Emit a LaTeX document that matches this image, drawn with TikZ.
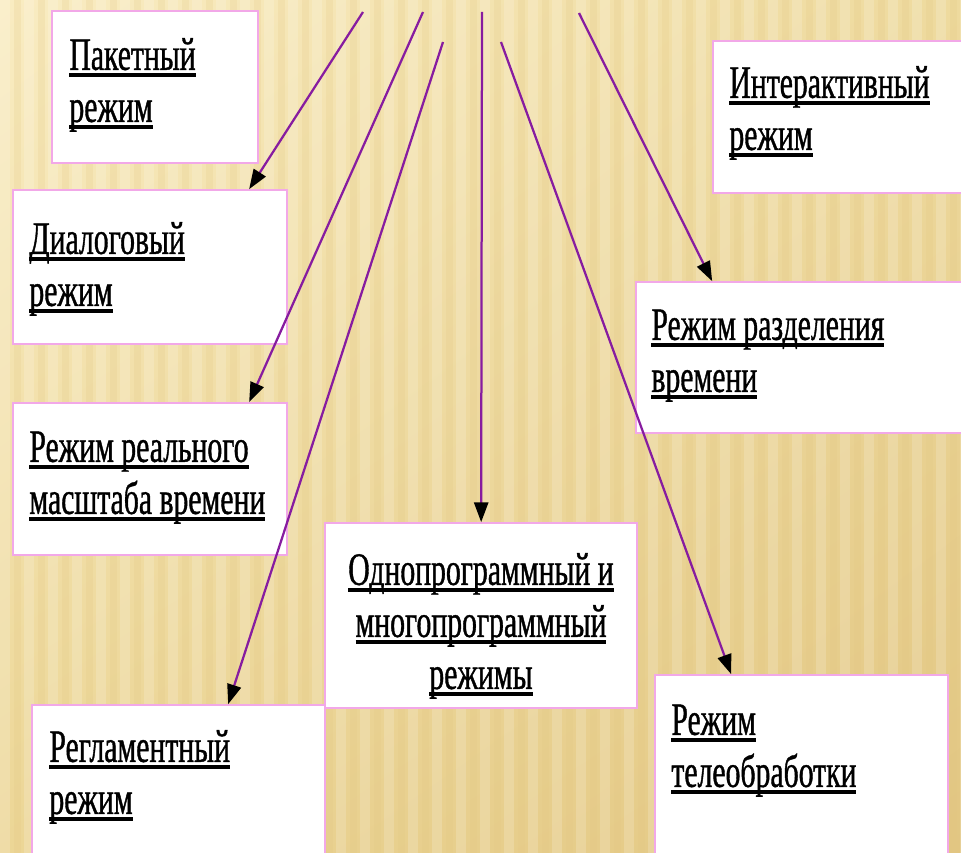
\documentclass[tikz,border=0pt]{standalone}
\usepackage{fontspec}
\newfontfamily\modefont[FakeStretch=0.64,FakeBold=0.8]{Liberation Serif}
\usetikzlibrary{arrows.meta,calc,fit,shadings}
\definecolor{boxpink}{RGB}{242,168,232}
\definecolor{arrowviolet}{RGB}{135,28,160}
\definecolor{bgA}{RGB}{249,236,194}
\definecolor{bgB}{RGB}{238,218,158}
\definecolor{bgC}{RGB}{236,214,150}
\definecolor{bgD}{RGB}{226,198,130}
\newsavebox\ulbox
\newcommand{\ulln}[1]{\sbox\ulbox{#1}\rlap{\rule[-0.15em]{\wd\ulbox}{0.08em}}\usebox\ulbox\strut}

\begin{document}
\begin{tikzpicture}[x=0.025cm, y=-0.025cm,
		modebox/.style={draw=boxpink, line width=1.2pt, fill=white, inner sep=0pt},
		modetext/.style={anchor=north west, inner sep=0pt, align=left, font=\modefont\fontsize{33}{37}\selectfont},
		modearrow/.style={draw=arrowviolet, line width=1.6pt, -{Triangle[length=14pt,width=10pt,color=black]}}]
		\useasboundingbox (0,0) rectangle (961,853);
		\shade[upper left=bgA, upper right=bgB, lower left=bgC, lower right=bgD] (0,0) rectangle (961,853);
		\foreach \i in {0,24,...,960} {
			\fill[white, opacity=0.17] (\i,0) rectangle ++(10,853);
			\fill[bgD, opacity=0.2] (\i+14,0) rectangle ++(7,853);
		}
		
		\node[modebox, fit={(52,11) (258,163)}] (pak) {};
		\node[modebox, fit={(13,190) (287,344)}] (dlg) {};
		\node[modebox, fit={(13,403) (287,555)}] (rts) {};
		\node[modebox, fit={(32,705) (325,858)}] (reg) {};
		\node[modebox, fit={(325,523) (637,708)}] (mp) {};
		\node[modebox, fit={(713,41) (965,193)}] (ia) {};
		\node[modebox, fit={(636,282) (965,433)}] (tsh) {};
		\node[modebox, fit={(655,675) (948,858)}] (tel) {};
		
		\node[modetext] (pakT) at ($(pak.north west)+(18,23)$) {\ulln{Пакетный}\\\ulln{режим}};
		\node[modetext] (dlgT) at ($(dlg.north west)+(17,28)$) {\ulln{Диалоговый}\\\ulln{режим}};
		\node[modetext] (rtsT) at ($(rts.north west)+(17,23)$) {\ulln{Режим реального}\\\ulln{масштаба времени}};
		\node[modetext] (regT) at ($(reg.north west)+(18,21)$) {\ulln{Регламентный}\\\ulln{режим}};
		\node[modetext, anchor=north, align=center] (mpT) at ($(mp.north)+(0,26)$) {\ulln{Однопрограммный и}\\\ulln{многопрограммный}\\\ulln{режимы}};
		\node[modetext] (iaT) at ($(ia.north west)+(17,21)$) {\ulln{Интерактивный}\\\ulln{режим}};
		\node[modetext] (tshT) at ($(tsh.north west)+(16,22)$) {\ulln{Режим разделения}\\\ulln{времени}};
		\node[modetext] (telT) at ($(tel.north west)+(17,24)$) {\ulln{Режим}\\\ulln{телеобработки}};
		
		\coordinate (s1) at (363,12);
		\coordinate (s2) at (423,12);
		\coordinate (s3) at (443,42);
		\coordinate (s4) at (482,12);
		\coordinate (s5) at (501,42);
		\coordinate (s6) at (579,13);
		
		\draw[modearrow] (s1) -- ($(dlg.north west)+(237,0)$);
		\draw[modearrow] (s2) -- ($(rts.north west)+(237,0)$);
		\draw[modearrow] (s3) -- ($(reg.north west)+(197,0)$);
		\draw[modearrow] (s4) -- ($(mp.north west)+(157,0)$);
		\draw[modearrow] (s5) -- ($(tel.north west)+(77,0)$);
		\draw[modearrow] (s6) -- (tsh.north west -| ia.west);
	\end{tikzpicture}
\end{document}
